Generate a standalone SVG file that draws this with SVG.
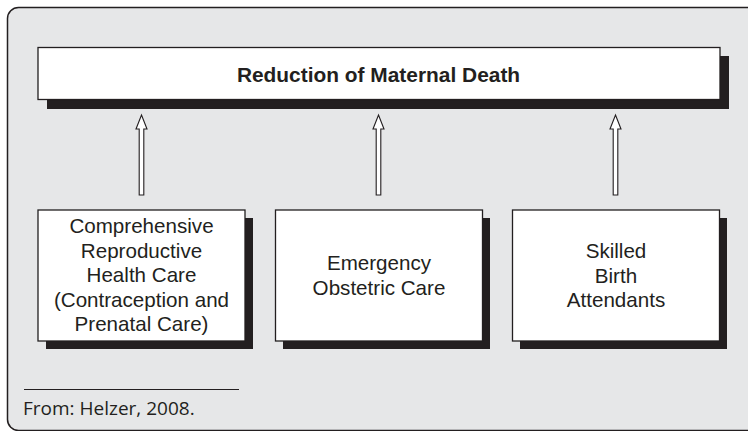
<svg xmlns="http://www.w3.org/2000/svg" width="748" height="431" viewBox="0 0 748 431">
<defs>
<style>
.frame{fill:#e6e7e8;stroke:#231f20;stroke-width:1.5}
.shadow{fill:#231f20}
.box{fill:#ffffff;stroke:#231f20;stroke-width:1.3}
.arrow{fill:#ffffff;stroke:#231f20;stroke-width:1.1;stroke-linejoin:miter}
.t{font-family:"Liberation Sans",Arial,sans-serif;font-size:20.6px;fill:#231f20;text-anchor:middle}
.title{font-family:"Liberation Sans",Arial,sans-serif;font-size:20.9px;font-weight:bold;fill:#231f20;text-anchor:middle}
.src{font-family:"Open Sans","Noto Sans",sans-serif;font-size:19px;fill:#231f20}
</style>
<path id="arr" class="arrow" d="M0,0 L5.5,14 L2.3,14 L2.3,80 L-2.3,80 L-2.3,14 L-5.5,14 Z"/>
</defs>
<rect class="frame" x="7.5" y="7.5" width="760" height="423" rx="11" ry="11"/>

<g id="top">
<rect class="shadow" x="47" y="56" width="682" height="53"/>
<rect class="box" x="38" y="47.5" width="682" height="52"/>
<text class="title" x="378.5" y="81.5">Reduction of Maternal Death</text>
</g>

<g id="connectors">
<use href="#arr" x="141.5" y="115"/>
<use href="#arr" x="378.5" y="115"/>
<use href="#arr" x="615.5" y="115"/>
</g>

<g id="crhc">
<rect class="shadow" x="46" y="218" width="207" height="131"/>
<rect class="box" x="38" y="210" width="207" height="131"/>
<text class="t" x="141.5" y="233">Comprehensive</text>
<text class="t" x="141.5" y="257.5">Reproductive</text>
<text class="t" x="141.5" y="282">Health Care</text>
<text class="t" x="141.5" y="306.5">(Contraception and</text>
<text class="t" x="141.5" y="331">Prenatal Care)</text>
</g>

<g id="eoc">
<rect class="shadow" x="283" y="218" width="207" height="131"/>
<rect class="box" x="275.5" y="210" width="207" height="131"/>
<text class="t" x="379" y="270">Emergency</text>
<text class="t" x="379" y="295">Obstetric Care</text>
</g>

<g id="sba">
<rect class="shadow" x="520" y="218" width="207" height="131"/>
<rect class="box" x="512.5" y="210" width="207" height="131"/>
<text class="t" x="616" y="258">Skilled</text>
<text class="t" x="616" y="282.5">Birth</text>
<text class="t" x="616" y="307">Attendants</text>
</g>

<g id="source">
<line x1="24" y1="389.5" x2="239" y2="389.5" stroke="#231f20" stroke-width="1"/>
<text class="src" x="23" y="415">From: Helzer, 2008.</text>
</g>
</svg>
